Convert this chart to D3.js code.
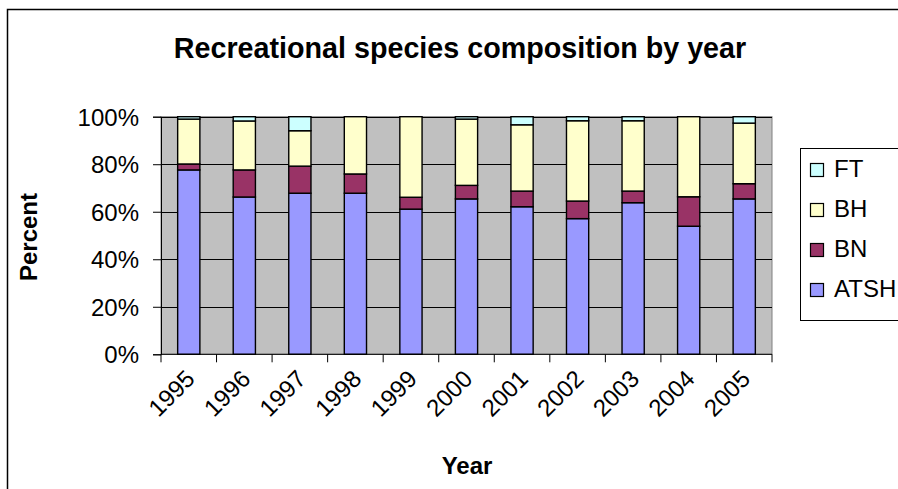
<!DOCTYPE html>
<html><head><meta charset="utf-8">
<script src="https://cdn.jsdelivr.net/npm/d3@7"></script>
<style>
html,body{margin:0;padding:0;background:#fff;}
svg{display:block;font-family:Arial,"Liberation Sans",sans-serif;}
</style></head><body>
<svg id="c" width="898" height="489"></svg>
<script>
const years = ["1995","1996","1997","1998","1999","2000","2001","2002","2003","2004","2005"];
const seriesNames = ["ATSH","BN","BH","FT"];
const ATSH = [77.6, 66.2, 67.8, 67.8, 61.1, 65.4, 62.1, 57.1, 63.8, 53.9, 65.4];
const BN   = [2.5, 11.4, 11.4, 8.1, 5.0, 5.7, 6.6, 7.4, 4.9, 12.4, 6.4];
const BH   = [18.9, 20.6, 14.9, 24.1, 33.9, 27.9, 27.9, 33.8, 29.6, 33.7, 25.5];
const FT   = [1.0, 1.8, 5.9, 0, 0, 1.0, 3.4, 1.7, 1.7, 0, 2.7];
const yTicks = [0, 20, 40, 60, 80, 100];
const colors = {ATSH:"#9999FF", BN:"#993366", BH:"#FFFFCC", FT:"#CCFFFF"};

(function(){
const FONT = "Arial, 'Liberation Sans', sans-serif";
const data = years.map((y,i)=>({year:y, ATSH:ATSH[i], BN:BN[i], BH:BH[i], FT:FT[i]}));
const svg = d3.select("#c");

// outer chart border
svg.append("rect").attr("x",7.5).attr("y",9.5).attr("width",898).attr("height",489)
  .attr("fill","none").attr("stroke","#000").attr("stroke-width",1.5);

const pL=161, pR=772, pT=116.7, pB=354.3;
const x = d3.scaleBand().domain(years).range([pL,pR]).paddingInner(0.6).paddingOuter(0.3);
const y = d3.scaleLinear().domain([0,100]).range([pB,pT]);

// plot area
svg.append("rect").attr("x",pL).attr("y",pT).attr("width",pR-pL).attr("height",pB-pT)
  .attr("fill","#C0C0C0").attr("stroke","#808080").attr("stroke-width",1);

// gridlines
svg.append("g").selectAll("line").data(yTicks.filter(t=>t>0)).join("line")
  .attr("x1",pL).attr("x2",pR)
  .attr("y1",d=>Math.round(y(d))+0.5).attr("y2",d=>Math.round(y(d))+0.5)
  .attr("stroke","#000").attr("stroke-width",1);

// stacked bars
const stack = d3.stack().keys(seriesNames)(data);
svg.append("g").selectAll("g").data(stack).join("g")
  .attr("fill",d=>colors[d.key])
  .selectAll("rect").data(d=>d.filter(p=>p[1]-p[0]>0)).join("rect")
  .attr("x",d=>x(d.data.year)).attr("width",x.bandwidth())
  .attr("y",d=>y(d[1])).attr("height",d=>y(d[0])-y(d[1]))
  .attr("stroke","#000").attr("stroke-width",1.4);

// y axis
const yAxis = d3.axisLeft(y).tickValues(yTicks).tickFormat(d=>d+"%").tickSize(8).tickPadding(14);
const gy = svg.append("g").attr("transform",`translate(${pL},0)`).call(yAxis);
gy.select(".domain").attr("stroke","#000");
gy.selectAll(".tick line").attr("stroke","#000");
gy.selectAll("text").attr("font-size",24).attr("fill","#000").attr("font-family",FONT).attr("dy","0.36em");

// x axis baseline and ticks at category boundaries
svg.append("line").attr("x1",pL).attr("x2",pR).attr("y1",pB).attr("y2",pB).attr("stroke","#000");
const bounds = years.map(d=>x(d)-x.step()*0.3).concat([pR]);
svg.append("g").selectAll("line").data(bounds).join("line")
  .attr("x1",d=>d).attr("x2",d=>d).attr("y1",pB).attr("y2",pB+8).attr("stroke","#000");

// x labels rotated
svg.append("g").selectAll("text").data(years).join("text")
  .attr("transform",d=>`translate(${x(d)+x.bandwidth()/2+7.5},${pB+26}) rotate(-45)`)
  .attr("text-anchor","end")
  .attr("font-size",24).attr("fill","#000").text(d=>d);

// title
svg.append("text").attr("x",460).attr("y",58).attr("text-anchor","middle")
  .attr("font-size",28.7).attr("font-weight","bold").text("Recreational species composition by year");
// axis titles
svg.append("text").attr("transform","translate(37,237) rotate(-90)").attr("text-anchor","middle")
  .attr("font-size",24).attr("font-weight","bold").text("Percent");
svg.append("text").attr("x",467).attr("y",474).attr("text-anchor","middle")
  .attr("font-size",24).attr("font-weight","bold").text("Year");

// legend
const lg = svg.append("g");
lg.append("rect").attr("x",800.5).attr("y",148.5).attr("width",110).attr("height",172)
  .attr("fill","#fff").attr("stroke","#000").attr("stroke-width",1);
const legendOrder = ["FT","BH","BN","ATSH"];
const li = lg.selectAll("g").data(legendOrder).join("g")
  .attr("transform",(d,i)=>`translate(0,${i*40})`);
li.append("rect").attr("x",810.5).attr("y",163.5).attr("width",13).attr("height",13)
  .attr("fill",d=>colors[d]).attr("stroke","#000").attr("stroke-width",1.2);
li.append("text").attr("x",834).attr("y",177).attr("font-size",24).text(d=>d);
})();
</script>
</body></html>
